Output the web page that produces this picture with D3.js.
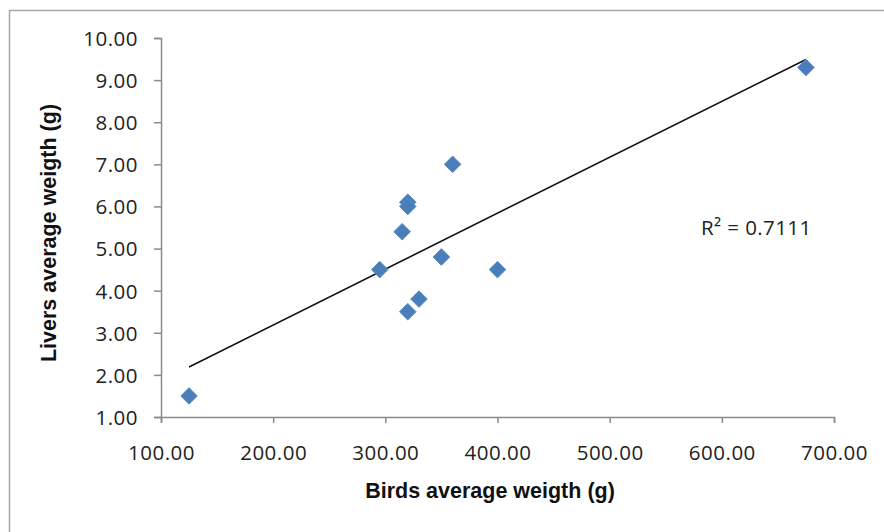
<!DOCTYPE html>
<html>
<head>
<meta charset="utf-8">
<script src="https://cdn.jsdelivr.net/npm/d3@7"></script>
<style>
  body { margin: 0; background: #fff; }
  svg { display: block; }
  .tick text { font-family: "Open Sans", "Liberation Sans", sans-serif; font-size: 20.5px; letter-spacing: 0.5px; fill: #222; }
  .title { font-family: "Liberation Sans", Arial, sans-serif; font-weight: bold; font-size: 21.5px; fill: #111; }
</style>
</head>
<body>
<div id="chart"></div>
<script>
// bird weight (g) vs liver weight (g), one entry per point
const birdWeight = [125, 295, 315, 320, 320, 320, 330, 350, 360, 400, 675];
const liverWeight = [1.5, 4.5, 5.4, 6.1, 6.0, 3.5, 3.8, 4.8, 7.0, 4.5, 9.3];
const xTicks = [100, 200, 300, 400, 500, 600, 700];
const yTicks = [1, 2, 3, 4, 5, 6, 7, 8, 9, 10];
const r2Label = "R\u00b2 = 0.7111";

const width = 884, height = 532;
const margin = { top: 38, right: 50, bottom: 115, left: 161 };

const svg = d3.select("#chart").append("svg")
  .attr("width", width)
  .attr("height", height);

// chart border (only left and top sit inside the picture)
svg.append("rect")
  .attr("x", 9.5).attr("y", 10.5)
  .attr("width", 890).attr("height", 540)
  .attr("fill", "none")
  .attr("stroke", "#a8a8a8")
  .attr("stroke-width", 1.5);

const x = d3.scaleLinear().domain([100, 700]).range([margin.left, width - margin.right]);
const y = d3.scaleLinear().domain([1, 10]).range([height - margin.bottom, margin.top]);

const xAxis = svg.append("g")
  .attr("transform", "translate(0," + y(1) + ")")
  .call(d3.axisBottom(x).tickValues(xTicks).tickFormat(d3.format(".2f")).tickSize(6).tickPadding(22));

const yAxis = svg.append("g")
  .attr("transform", "translate(" + x(100) + ",0)")
  .call(d3.axisLeft(y).tickValues(yTicks).tickFormat(d3.format(".2f")).tickSize(7).tickPadding(16));

[xAxis, yAxis].forEach(function (g) {
  g.select(".domain").attr("stroke", "#8a8a8a").attr("stroke-width", 1.5);
  g.selectAll(".tick line").attr("stroke", "#8a8a8a").attr("stroke-width", 1.5);
});
yAxis.selectAll(".tick text").attr("dy", "0.36em");

// linear trend line (least squares)
const mx = d3.mean(birdWeight), my = d3.mean(liverWeight);
let sxy = 0, sxx = 0;
birdWeight.forEach(function (v, i) {
  sxy += (v - mx) * (liverWeight[i] - my);
  sxx += (v - mx) * (v - mx);
});
const slope = sxy / sxx, intercept = my - slope * mx;
const xMin = d3.min(birdWeight), xMax = d3.max(birdWeight);

svg.append("line")
  .attr("x1", x(xMin)).attr("y1", y(intercept + slope * xMin))
  .attr("x2", x(xMax)).attr("y2", y(intercept + slope * xMax))
  .attr("stroke", "#111")
  .attr("stroke-width", 1.6);

svg.append("g")
  .selectAll("path")
  .data(birdWeight.map(function (v, i) { return [v, liverWeight[i]]; }))
  .join("path")
    .attr("d", d3.symbol(d3.symbolDiamond2, 175))
    .attr("transform", function (d) { return "translate(" + x(d[0]) + "," + y(d[1]) + ")"; })
    .attr("fill", "#4a7ebb")
    .attr("stroke", "#5b8ac4")
    .attr("stroke-width", 1);

svg.append("text")
  .attr("x", 701).attr("y", 235)
  .attr("font-family", "'Open Sans', 'Liberation Sans', sans-serif")
  .attr("font-size", 20.5)
  .attr("letter-spacing", 0.4)
  .attr("fill", "#222")
  .text(r2Label);

svg.append("text")
  .attr("class", "title")
  .attr("x", 490).attr("y", 498)
  .attr("text-anchor", "middle")
  .text("Birds average weigth (g)");

svg.append("text")
  .attr("class", "title")
  .attr("transform", "translate(56,233) rotate(-90)")
  .attr("text-anchor", "middle")
  .text("Livers average weigth (g)");
</script>
</body>
</html>
